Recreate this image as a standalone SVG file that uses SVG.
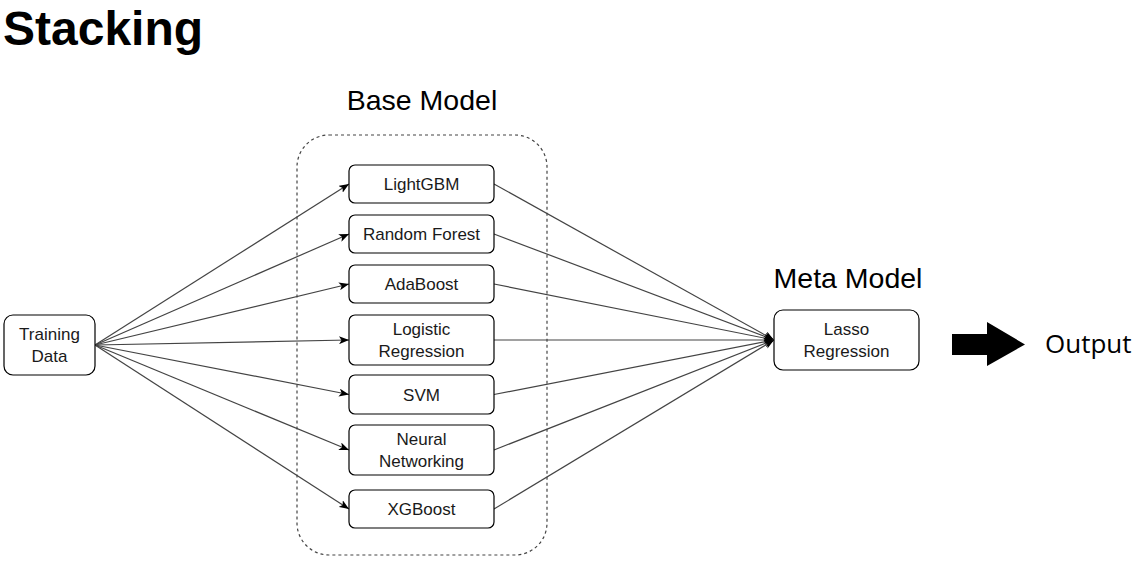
<svg xmlns="http://www.w3.org/2000/svg" width="1145" height="564" viewBox="0 0 1145 564">
<style>
.box{fill:#fff;stroke:#000;stroke-width:1.2}
.t{font-family:"Liberation Sans",Arial,sans-serif;font-size:17px;fill:#1a1a1a;text-anchor:middle}
.h{font-family:"Liberation Sans",Arial,sans-serif;font-size:28.5px;fill:#000;text-anchor:middle}
.c{fill:none;stroke:#444;stroke-width:1.2}
</style>
<defs>
<marker id="ah" viewBox="0 0 10 8" refX="10" refY="4" markerWidth="10" markerHeight="8" markerUnits="userSpaceOnUse" orient="auto">
<path d="M0,0 L10,4 L0,8 L2.5,4 Z" fill="#000"/>
</marker>
</defs>
<rect width="1145" height="564" fill="#fff"/>
<text x="3" y="45" font-family="'Liberation Sans',Arial,sans-serif" font-size="48" font-weight="bold" fill="#000">Stacking</text>
<text class="h" x="422" y="110">Base Model</text>
<text class="h" x="848" y="288">Meta Model</text>
<g id="container"><rect x="297" y="135" width="250" height="420" rx="32" fill="none" stroke="#444" stroke-width="1.2" stroke-dasharray="3,3"/></g>
<g id="connectors">
<path class="c" d="M95,345 L349,184" marker-end="url(#ah)"/>
<path class="c" d="M95,345 L349,234" marker-end="url(#ah)"/>
<path class="c" d="M95,345 L349,284" marker-end="url(#ah)"/>
<path class="c" d="M95,345 L349,340" marker-end="url(#ah)"/>
<path class="c" d="M95,345 L349,394.5" marker-end="url(#ah)"/>
<path class="c" d="M95,345 L349,450" marker-end="url(#ah)"/>
<path class="c" d="M95,345 L349,509" marker-end="url(#ah)"/>
<path class="c" d="M494,184 L774,340" marker-end="url(#ah)"/>
<path class="c" d="M494,234 L774,340" marker-end="url(#ah)"/>
<path class="c" d="M494,284 L774,340" marker-end="url(#ah)"/>
<path class="c" d="M494,340 L774,340" stroke="#000" marker-end="url(#ah)"/>
<path class="c" d="M494,394.5 L774,340" marker-end="url(#ah)"/>
<path class="c" d="M494,450 L774,340" marker-end="url(#ah)"/>
<path class="c" d="M494,509 L774,340" marker-end="url(#ah)"/>
</g>
<g id="training"><rect class="box" x="4" y="315" width="91" height="60" rx="9"/><text class="t" x="49.5" y="340">Training</text><text class="t" x="49.5" y="362">Data</text></g>
<g id="lightgbm"><rect class="box" x="349" y="165" width="145" height="38" rx="6"/><text class="t" x="421.5" y="190">LightGBM</text></g>
<g id="randomforest"><rect class="box" x="349" y="215" width="145" height="38" rx="6"/><text class="t" x="421.5" y="240">Random Forest</text></g>
<g id="adaboost"><rect class="box" x="349" y="265" width="145" height="38" rx="6"/><text class="t" x="421.5" y="290">AdaBoost</text></g>
<g id="logistic"><rect class="box" x="349" y="315" width="145" height="50" rx="6"/><text class="t" x="421.5" y="335">Logistic</text><text class="t" x="421.5" y="357">Regression</text></g>
<g id="svm"><rect class="box" x="349" y="375" width="145" height="39" rx="6"/><text class="t" x="421.5" y="400.5">SVM</text></g>
<g id="neural"><rect class="box" x="349" y="425" width="145" height="50" rx="6"/><text class="t" x="421.5" y="445">Neural</text><text class="t" x="421.5" y="467">Networking</text></g>
<g id="xgboost"><rect class="box" x="349" y="490" width="145" height="38" rx="6"/><text class="t" x="421.5" y="515">XGBoost</text></g>
<g id="lasso"><rect class="box" x="774" y="310" width="145" height="60" rx="9"/><text class="t" x="846.5" y="335">Lasso</text><text class="t" x="846.5" y="357">Regression</text></g>
<g id="output-arrow"><polygon points="952,334 987,334 987,322 1025,344.5 987,366 987,355 952,355" fill="#000"/></g>
<text x="1045" y="353" font-family="'Open Sans',sans-serif" font-size="26" fill="#000">Output</text>
</svg>
